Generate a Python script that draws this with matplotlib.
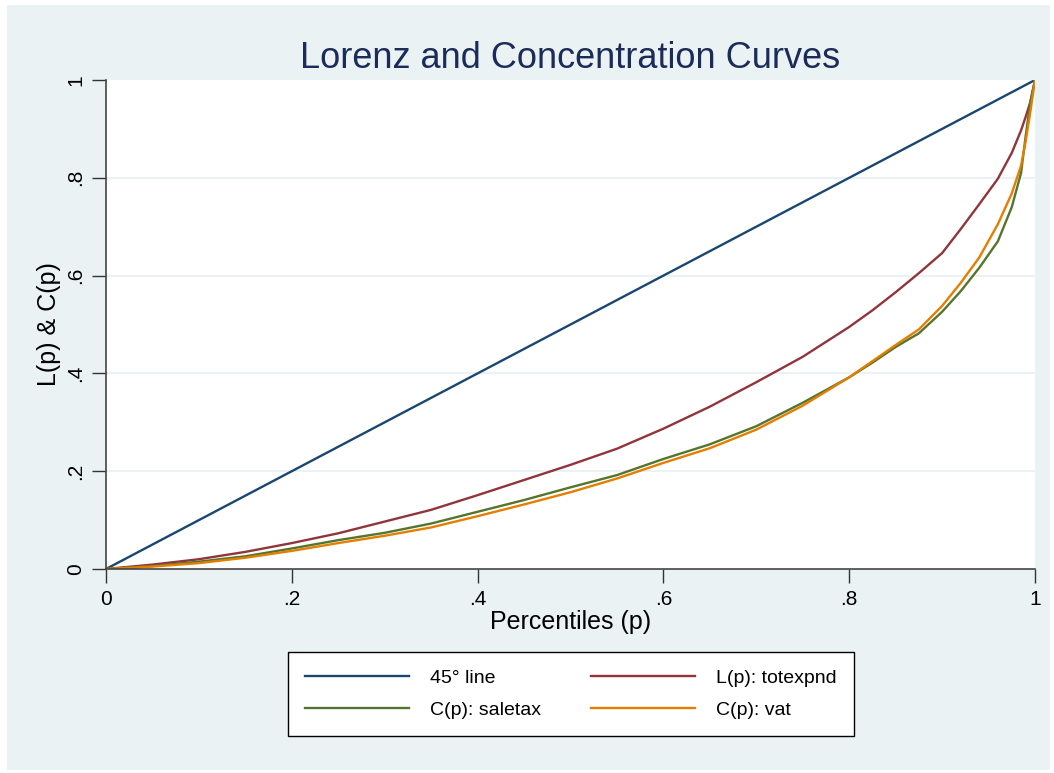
import matplotlib.pyplot as plt
from matplotlib.patches import Rectangle

# Percentiles and curve values
p = [0, .05, .1, .15, .2, .25, .3, .35, .4, .45, .5, .55, .6, .65, .7, .75, .8,
     .825, .85, .875, .9, .92, .94, .96, .975, .985, .99, .995, 1]
diag = p
totexpnd = [0, .009, .020, .035, .053, .073, .097, .121, .151, .182, .213, .246, .287,
            .332, .382, .434, .495, .529, .566, .605, .646, .695, .746, .798, .851,
            .897, .925, .955, 1]
saletax = [0, .006, .015, .026, .042, .059, .074, .093, .117, .141, .167, .192, .225,
           .255, .292, .340, .392, .422, .454, .482, .526, .568, .616, .670, .740,
           .810, .886, .955, 1]
vat = [0, .005, .012, .023, .037, .053, .068, .085, .108, .132, .157, .185, .217,
       .247, .285, .334, .392, .425, .458, .490, .538, .585, .637, .705, .768,
       .825, .875, .935, 1]

ticks = [0, .2, .4, .6, .8, 1]
tick_labels = ['0', '.2', '.4', '.6', '.8', '1']
labels = ['45\u00b0 line', 'L(p): totexpnd', 'C(p): saletax', 'C(p): vat']

bg = '#EAF2F3'
plt.rcParams['font.family'] = ['Liberation Sans', 'DejaVu Sans']

fig = plt.figure(figsize=(10.54, 7.73), dpi=100, facecolor='white')
fig.patches.append(Rectangle((7 / 1054, 3 / 773), 1043 / 1054, 765 / 773,
                             transform=fig.transFigure, facecolor=bg,
                             edgecolor='none', zorder=-10))

ax = fig.add_axes([106 / 1054, 1 - 569 / 773, 929 / 1054, 489 / 773])
ax.set_zorder(1)
ax.set_facecolor('white')

l1, = ax.plot(p, diag, color='#1A476F', lw=1.7)
l2, = ax.plot(p, totexpnd, color='#90353B', lw=1.7)
l3, = ax.plot(p, saletax, color='#55752F', lw=1.7)
l4, = ax.plot(p, vat, color='#E37E00', lw=1.7)

ax.set_xlim(0, 1)
ax.set_ylim(0, 1)
ax.set_xticks(ticks)
ax.set_xticklabels(tick_labels)
ax.set_yticks(ticks)
ax.set_yticklabels(tick_labels, rotation=90, va='center')
ax.tick_params(axis='both', direction='out', length=10, width=1, color='#333333',
               labelsize=15, pad=5)

for y in ticks[1:-1]:
    ax.axhline(y, color=bg, lw=1.5, zorder=0)

for side in ['top', 'right']:
    ax.spines[side].set_visible(False)
for side in ['left', 'bottom']:
    ax.spines[side].set_color('#444444')
    ax.spines[side].set_linewidth(1.2)

ax.set_xlabel('Percentiles (p)', fontsize=18, labelpad=1)
ax.set_ylabel('L(p) & C(p)', fontsize=18, labelpad=4)
ax.set_title('Lorenz and Concentration Curves', fontsize=26, color='#1C2C5A', pad=9)

leg = fig.legend([l1, l3, l2, l4], [labels[0], labels[2], labels[1], labels[3]],
                 ncol=2, loc='center', bbox_to_anchor=(571 / 1054, 1 - 694 / 773),
                 fontsize=14, frameon=True, fancybox=False, framealpha=1,
                 handlelength=5.3, handletextpad=1.1, columnspacing=2.6,
                 borderpad=0.9, labelspacing=0.75, borderaxespad=0)
leg.get_frame().set_edgecolor('black')
leg.get_frame().set_linewidth(1.0)
leg.set_zorder(2)

fig.savefig('out.png', dpi=100, facecolor='white')
